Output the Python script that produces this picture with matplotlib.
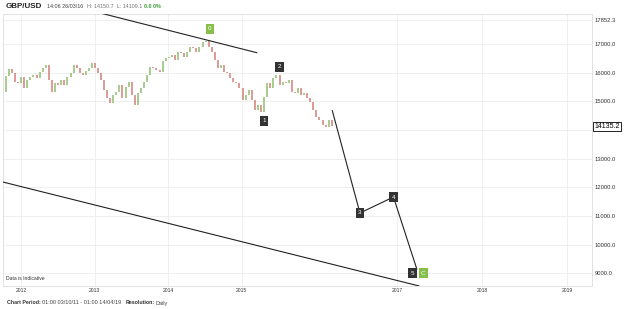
import numpy as np
import pandas as pd
import matplotlib
matplotlib.use("Agg")
import matplotlib.pyplot as plt
from matplotlib.transforms import blended_transform_factory

plt.rcParams['font.family'] = ['Liberation Sans', 'DejaVu Sans']

# GBP/USD closes (x10000), roughly every ten days, 03/10/11 .. 25/03/16
closes = [
    15340, 15900, 16120, 16000, 15690, 15630, 15850, 15460, 15740, 15860,
    15910, 15800, 16030, 16150, 16270, 15750, 15340, 15650, 15570, 15740,
    15570, 15860, 16000, 16270, 16150, 15990, 15920, 16050, 16150, 16330,
    16150, 15980, 15750, 15400, 15100, 14930, 15220, 15340, 15570, 15100,
    15510, 15690, 15220, 14870, 15280, 15460, 15690, 15920, 16210, 16150,
    16100, 16040, 16390, 16500, 16560, 16620, 16440, 16730, 16680, 16560,
    16730, 16900, 16850, 16730, 16900, 17080, 17120, 16900, 16730, 16440,
    16150, 16270, 16040, 15980, 15800, 15690, 15630, 15460, 15050, 15220,
    15400, 15050, 14700, 14870, 14640, 15160, 15630, 15460, 15800, 15920,
    15570, 15690, 15630, 15750, 15340, 15280, 15460, 15220, 15280, 15100,
    14990, 14700, 14470, 14350, 14180, 14110, 14350, 14135,
]
start_date = '2011-10-03'
end_date = '2016-03-25'

# Elliott wave labels: text, date, price, box colour
wave_labels = ['0', '1', '2', '3', '4', '5', 'C']
wave_dates = ['2014-07-28', '2015-04-22', '2015-07-08', '2016-07-25',
              '2016-12-16', '2017-03-08', '2017-04-24']
wave_prices = [17541, 14314, 16198, 11104, 11662, 9010, 9010]
wave_green = [True, False, False, False, False, False, True]

# projected path 3-4-5
path_dates = ['2016-03-27', '2016-07-25', '2016-12-16', '2017-03-27']
path_prices = [14673, 11104, 11662, 9150]

# trend lines
upper_dates = ['2013-02-12', '2015-03-18']
upper_prices = [18057, 16697]
lower_dates = ['2011-10-03', '2017-04-06']
lower_prices = [12185, 8557]

y_ticks = [9000, 10000, 11000, 12000, 13000, 14000, 15000, 16000, 17000, 17852.3]
x_years = [2012, 2013, 2014, 2015, 2017, 2018, 2019]
last_price = 14135.2


def to_year(d):
    d = pd.to_datetime(d)
    return d.year + (d.dayofyear - 1) / 365.25


# history is drawn tighter than the projected future
BREAK = 2016.26
U0 = (BREAK - 2012) * 73.5


def fwd(v):
    v = np.asarray(v, dtype=float)
    return np.where(v <= BREAK, (v - 2012) * 73.5, U0 + (v - BREAK) * 85.0)


def inv(u):
    u = np.asarray(u, dtype=float)
    return np.where(u <= U0, 2012 + u / 73.5, BREAK + (u - U0) / 85.0)


fig = plt.figure(figsize=(6.25, 3.09), dpi=100)
ax = fig.add_axes([3 / 625, 1 - 286 / 309, 589 / 625, 272 / 309])
ax.set_xscale('function', functions=(fwd, inv))
ax.set_xlim(2011.755, 2019.294)
ax.set_ylim(8557, 18047)

# grid
for yv in y_ticks:
    ax.axhline(yv, color='#ececec', lw=0.6, zorder=0)
for xv in x_years:
    ax.axvline(xv, color='#ececec', lw=0.6, zorder=0)

# price bars
dates = pd.date_range(start_date, end_date, periods=len(closes))
xs = to_year(dates)
c = np.array(closes, dtype=float)
opens = np.concatenate([[c[0]], c[:-1]])
cols = ['#98c47a' if cl >= op else '#d58a84' for op, cl in zip(opens, c)]
ax.vlines(xs, np.minimum(opens, c), np.maximum(opens, c), colors=cols, lw=1.2, zorder=2)

# trend lines and projection
ax.plot(to_year(upper_dates), upper_prices, color='#222222', lw=0.8, zorder=3)
ax.plot(to_year(lower_dates), lower_prices, color='#222222', lw=0.8, zorder=3)
ax.plot(to_year(path_dates), path_prices, color='#222222', lw=0.8, zorder=3)

for lab, d, p, g in zip(wave_labels, wave_dates, wave_prices, wave_green):
    ax.text(to_year(d), p, lab, fontsize=4.5, color='white', ha='center', va='center',
            zorder=5, bbox=dict(boxstyle='square,pad=0.4',
                                fc='#86bf4b' if g else '#333333', ec='none'))

# axes styling
for s in ax.spines.values():
    s.set_color('#dddddd')
    s.set_linewidth(0.6)
ax.yaxis.tick_right()
ax.set_yticks(y_ticks)
# 14000 sits under the last-price box
ax.set_yticklabels(['' if v == 14000 else f'{v:.1f}' for v in y_ticks])
ax.set_xticks(x_years)
ax.set_xticklabels([str(y) for y in x_years])
ax.tick_params(axis='y', length=0, pad=2, labelsize=4.2, labelcolor='#333333')
ax.tick_params(axis='x', length=0, pad=1.5, labelsize=3.6, labelcolor='#333333')

tr = blended_transform_factory(ax.transAxes, ax.transData)
ax.text(1.004, last_price, f'{last_price:.1f}', transform=tr, fontsize=5, color='black',
        ha='left', va='center', zorder=6, clip_on=False,
        bbox=dict(boxstyle='square,pad=0.15', fc='white', ec='black', lw=0.6))

ax.text(0.005, 0.02, 'Data is Indicative', transform=ax.transAxes, fontsize=3.6,
        color='#333333', ha='left', va='bottom')


def chain(prev, text, gap, **kw):
    # place a text right after another one
    return fig.text(0, 0, text, ha='left', va='center', **kw) if prev is None else \
        ax.annotate(text, xy=(1, 0.5), xycoords=prev, xytext=(gap, 0),
                    textcoords='offset points', ha='left', va='center', **kw)


# header
t = fig.text(6 / 625, 1 - 7 / 309, 'GBP/USD', fontsize=5.8, fontweight='bold',
             color='#222222', ha='left', va='center')
t = chain(t, '14:06 26/03/16', 3, fontsize=3.9, color='#444444')
t = chain(t, 'H: 14150.7  L: 14109.1', 3, fontsize=3.9, color='#777777')
t = chain(t, '0.0 0%', 1.5, fontsize=3.9, fontweight='bold', color='#3a9a3a')

# footer
t = fig.text(7 / 625, 1 - 303 / 309, 'Chart Period:', fontsize=3.8, fontweight='bold',
             color='#333333', ha='left', va='center')
t = chain(t, '01:00 03/10/11 - 01:00 14/04/19', 1, fontsize=4.0, color='#444444')
t = chain(t, 'Resolution:', 3, fontsize=3.8, fontweight='bold', color='#333333')
t = chain(t, 'Daily', 1, fontsize=4.0, color='#444444')

fig.savefig('out.png', dpi=100)
